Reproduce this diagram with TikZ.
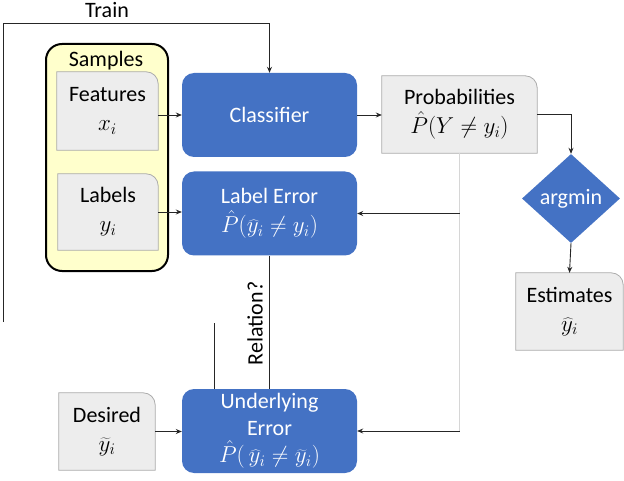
\documentclass[tikz,border=0pt]{standalone}
\usepackage{fix-cm}
\usepackage{fontspec}
\setmainfont{Carlito}
\usetikzlibrary{shapes.geometric,arrows.meta,backgrounds,calc}
\definecolor{blu}{HTML}{4472C4}
\definecolor{gfill}{HTML}{EDEDED}
\definecolor{gline}{HTML}{ABABAB}
\definecolor{yfill}{HTML}{FFFFCC}
\definecolor{vline}{HTML}{D6D6D6}
\newcommand\mth[1]{{\fontsize{23}{29}\selectfont$#1$}}
\tikzset{
  base/.style={font=\fontsize{22}{29}\selectfont, align=center, inner sep=0pt},
  bluebox/.style={base, fill=blu, text=white, rounded corners=12pt, minimum width=175pt, minimum height=84pt},
  tabtext/.style={base},
  conn/.style={line width=0.9pt, draw=black!85},
  arr/.style={conn, -{Stealth[length=6pt,width=5pt]}},
  tabline/.style={draw=gline, line width=0.8pt, fill=gfill},
}
\newcommand\tabshape[2]{%
  \path[tabline] (#1.south west) -- (#1.north west) -- ([xshift=-#2]#1.north east)
    arc[start angle=90,end angle=0,radius=#2] -- (#1.south east) -- cycle;}
\begin{document}
\begin{tikzpicture}[x=1pt,y=1pt]
\useasboundingbox (0,0) rectangle (624,480);
% text nodes of gray boxes
\node[tabtext, minimum width=101pt, minimum height=78pt] (feat) at (107.5,369) {Features\\[0pt]\mth{x_i}};
\node[tabtext, minimum width=100pt, minimum height=76pt] (labels) at (108,268) {Labels\\[0pt]\mth{y_i}};
\node[tabtext, minimum width=155pt, minimum height=77pt] (prob) at (459.5,365.5) {Probabilities\\[0pt]\mth{\hat{P}(Y\neq y_i)}};
\node[tabtext, minimum width=96pt, minimum height=77pt] (desired) at (107,48.5) {Desired\\[0pt]\mth{\widetilde{y}_i}};
\node[tabtext, minimum width=107pt, minimum height=77pt] (estim) at (569.5,168.5) {Estimates\\[0pt]\mth{\widehat{y}_i}};
\node[base] (samplestxt) at (106,419) {Samples};
\node[base] (train) at (107,470) {Train};
% blue boxes
\node[bluebox] (classifier) at (269.5,365) {Classifier};
\node[bluebox] (labelerr) at (269.5,266.5) {Label Error\\[0pt]\mth{\hat{P}(\widehat{y}_i\neq y_i)}};
\node[bluebox, font=\fontsize{22}{27}\selectfont] (under) at (269.5,49) {Underlying\\Error\\\mth{\hat{P}(\,\widehat{y}_i\neq \widetilde{y}_i)}};
\node[base, diamond, fill=blu, text=white, minimum width=98pt, minimum height=89pt, aspect=1.1] (argmin) at (571,281.5) {argmin};
% background shapes
\begin{scope}[on background layer]
  \node[draw=black, line width=2pt, fill=yfill, rounded corners=16pt, minimum width=122pt, minimum height=227pt] (samples) at (107,322.5) {};
  \tabshape{feat}{12pt}
  \tabshape{labels}{12pt}
  \tabshape{prob}{12pt}
  \tabshape{desired}{12pt}
  \tabshape{estim}{12pt}
\end{scope}
% connectors
\draw[arr] (feat.east |- classifier.west) -- (classifier.west);
\draw[arr] (labels.east) -- (labels.east -| labelerr.west);
\draw[arr] (desired.east) -- (desired.east -| under.west);
\draw[arr] (classifier.east) -- (classifier.east -| prob.west);
\draw[arr] (prob.east) -| (argmin.north);
\draw[arr] (argmin.south) -- (estim.north);
\draw[line width=0.8pt, draw=vline] (prob.south) -- (prob.south |- under.east);
\draw[arr] (prob.south |- labelerr.east) -- (labelerr.east);
\draw[arr] (prob.south |- under.east) -- (under.east);
\draw[conn] (labelerr.south) -- (under.north);
\node[base, rotate=90] (rel) at (255,156.5) {Relation?};
\coordinate (extra) at (214,157);
\draw[conn] (extra) -- (extra |- under.north);
\coordinate (trainstart) at (3,158);
\coordinate (traincorner) at (3,457);
\draw[arr] (trainstart) -- (traincorner) -| (classifier.north);
\end{tikzpicture}
\end{document}
